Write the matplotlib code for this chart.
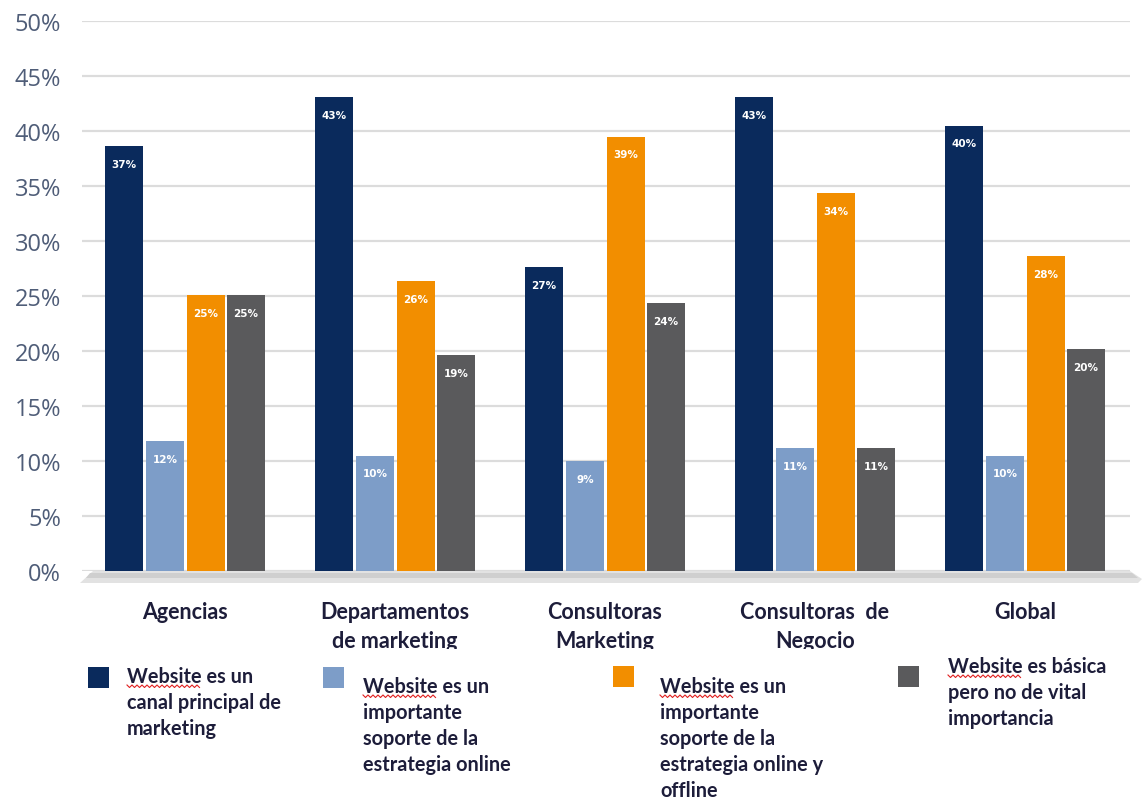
import matplotlib
matplotlib.use("Agg")
import matplotlib.pyplot as plt
import numpy as np
from matplotlib.patches import Polygon, Rectangle
from matplotlib.transforms import Bbox, TransformedBbox, IdentityTransform

categories = ["Agencias", "Departamentos\nde marketing", "Consultoras\nMarketing",
              "Consultoras  de\nNegocio", "Global"]
series_names = [
    "Website es un\ncanal principal de\nmarketing",
    "Website es un\nimportante\nsoporte de la\nestrategia online",
    "Website es un\nimportante\nsoporte de la\nestrategia online y\noffline",
    "Website es básica\npero no de vital\nimportancia",
]
# bar heights as drawn (%)
canal_principal = [38.6, 43.1, 27.6, 43.1, 40.5]
soporte_online = [11.8, 10.5, 10.0, 11.2, 10.5]
soporte_online_offline = [25.1, 26.4, 39.5, 34.4, 28.6]
basica = [25.1, 19.6, 24.4, 11.2, 20.2]
# value labels as printed
lbl_canal = ["37%", "43%", "27%", "43%", "40%"]
lbl_online = ["12%", "10%", "9%", "11%", "10%"]
lbl_offline = ["25%", "26%", "39%", "34%", "28%"]
lbl_basica = ["25%", "19%", "24%", "11%", "20%"]
yticks = [0, 5, 10, 15, 20, 25, 30, 35, 40, 45, 50]

series = [canal_principal, soporte_online, soporte_online_offline, basica]
labels = [lbl_canal, lbl_online, lbl_offline, lbl_basica]
colors = ["#0a2a5c", "#7d9dc8", "#f28e00", "#5a5a5c"]

W, H = 1146, 803
fig = plt.figure(figsize=(W / 100, H / 100), dpi=100)
ax = fig.add_axes([82 / W, 1 - 572 / H, (1130 - 82) / W, (572 - 22) / H])
ax.set_xlim(-0.49, 4.5)
ax.set_ylim(0, 50)

x = np.arange(len(categories))
offsets = [-0.29, -0.095, 0.10, 0.29]
bw = 0.18
for s, off, c, lb in zip(series, offsets, colors, labels):
    bars = ax.bar(x + off, s, width=bw, color=c, zorder=3)
    for b, t in zip(bars, lb):
        ax.annotate(t, (b.get_x() + b.get_width() / 2, b.get_height()),
                    xytext=(0, -18), textcoords="offset pixels",
                    ha="center", va="center", color="white", fontsize=7.5,
                    fontweight="bold", family="DejaVu Sans", zorder=4)

ax.set_yticks(yticks)
ax.set_yticklabels([f"{v}%" for v in yticks], family="Open Sans", fontsize=17, color="#4f5d78")
ax.tick_params(axis="y", length=0, pad=15)
ax.set_xticks([])
ax.grid(axis="y", color="#dcdcdc", linewidth=1.6, zorder=0)
for sp in ax.spines.values():
    sp.set_visible(False)

# 3D floor below bars (figure pixel coordinates)
floor = Polygon([[93, H - 572], [1130, H - 572], [1142, H - 580], [1138, H - 584], [80, H - 584]],
                closed=True, transform=IdentityTransform(), facecolor="#e2e2e2",
                edgecolor="none", zorder=1)
fig.patches.append(floor)
floor2 = Polygon([[90, H - 574], [1132, H - 574], [1138, H - 579], [86, H - 579]],
                 closed=True, transform=IdentityTransform(), facecolor="#cfcfcf",
                 edgecolor="none", zorder=1)
fig.patches.append(floor2)

# category labels (second line clipped at bottom as in the reference)
clip = TransformedBbox(Bbox([[0, H - 650], [W, H]]), IdentityTransform())
for i, cat in enumerate(categories):
    t = ax.text(i, 1 - 602 / H, cat, ha="center", va="top",
                fontsize=15.5, fontweight="bold", family="Lato", color="#1d1d3a",
                linespacing=1.45,
                transform=matplotlib.transforms.blended_transform_factory(ax.transData, fig.transFigure))
    t.set_clip_box(clip)
    t.set_clip_on(True)

# legend
leg_sq = [(88, 668), (323, 668), (613, 667), (898, 667)]
leg_txt = [(127, 667), (363, 677), (660, 677), (948, 657)]
renderer = fig.canvas.get_renderer()
fs = 14.3
for (sx, sy), (tx, ty), c, name in zip(leg_sq, leg_txt, colors, series_names):
    fig.patches.append(Rectangle((sx, H - sy - 21), 21, 21, transform=IdentityTransform(),
                                 facecolor=c, edgecolor="none"))
    fig.text(tx / W, 1 - ty / H, name, ha="left", va="top", fontsize=fs,
             fontweight="bold", family="Lato", color="#1d1d3a", linespacing=1.38)
    # red wavy spell-check underline under "Website"
    tmp = fig.text(tx / W, 1 - ty / H, "Website", ha="left", va="top", fontsize=fs,
                   fontweight="bold", family="Lato")
    bb = tmp.get_window_extent(renderer)
    tmp.remove()
    xs = np.arange(bb.x0, bb.x1, 2.5)
    ys = bb.y0 + 1 + np.where(np.arange(len(xs)) % 2 == 0, 0, -2.5)
    fig.lines.append(plt.Line2D(xs, ys, transform=IdentityTransform(), color="#e02020", lw=0.8))

fig.savefig("out.png", dpi=100)
